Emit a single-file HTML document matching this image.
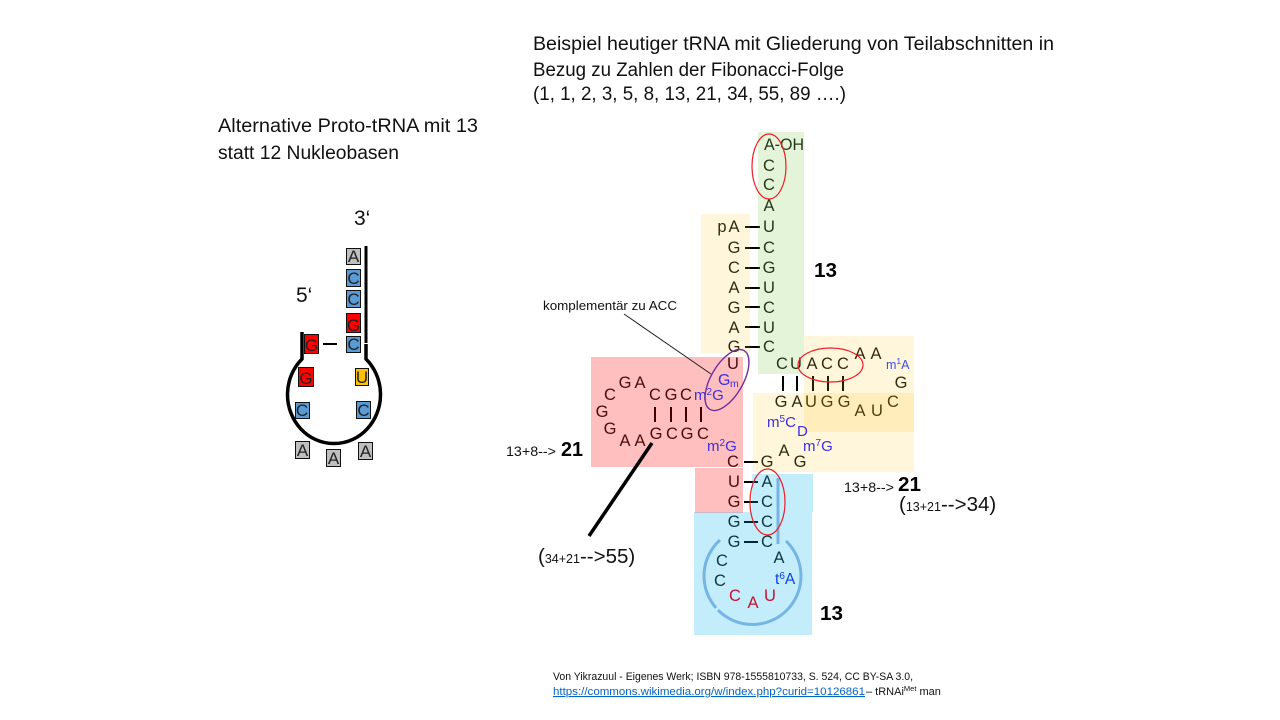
<!DOCTYPE html>
<html><head><meta charset="utf-8"><style>
html,body{margin:0;padding:0;background:#fff;width:1280px;height:720px;overflow:hidden}
svg{display:block;font-family:"Liberation Sans",sans-serif}
.n{font-size:16.5px;fill:#111;text-anchor:middle}
.m{font-size:15px;fill:#3d2ee0}
.r{font-size:16.5px;fill:#c8102e;text-anchor:middle}
.t{font-size:19px;fill:#111}
.b{font-size:20px;font-weight:bold;fill:#000}
.x{font-size:14px;fill:#111}
.bx{stroke:#111;stroke-width:1}
.l{font-size:17px;fill:#222;text-anchor:middle}
</style></head><body>
<svg width="1280" height="720" viewBox="0 0 1280 720" xmlns="http://www.w3.org/2000/svg">
<!-- titles -->
<text class="t" x="533" y="50" textLength="521" lengthAdjust="spacingAndGlyphs">Beispiel heutiger tRNA mit Gliederung von Teilabschnitten in</text>
<text class="t" x="533" y="76" textLength="311" lengthAdjust="spacingAndGlyphs">Bezug zu Zahlen der Fibonacci-Folge</text>
<text class="t" x="533" y="100" textLength="313" lengthAdjust="spacingAndGlyphs">(1, 1, 2, 3, 5, 8, 13, 21, 34, 55, 89 ….)</text>
<text class="t" x="218" y="132" textLength="260" lengthAdjust="spacingAndGlyphs">Alternative Proto-tRNA mit 13</text>
<text class="t" x="218" y="159" textLength="181" lengthAdjust="spacingAndGlyphs">statt 12 Nukleobasen</text>

<!-- acceptor stem -->
<g>
<text class="n" x="764" y="150" style="text-anchor:start" textLength="40" lengthAdjust="spacingAndGlyphs">A-OH</text>
<text class="n" x="769" y="171">C</text><text class="n" x="769" y="190">C</text><text class="n" x="769" y="211">A</text>
<text class="n" x="769" y="232">U</text><text class="n" x="769" y="253">C</text><text class="n" x="769" y="273">G</text>
<text class="n" x="769" y="293">U</text><text class="n" x="769" y="313">C</text><text class="n" x="769" y="333">U</text><text class="n" x="769" y="352">C</text>
<text class="n" x="722" y="232">p</text><text class="n" x="734" y="232">A</text><text class="n" x="734" y="253">G</text><text class="n" x="734" y="273">C</text>
<text class="n" x="734" y="293">A</text><text class="n" x="734" y="313">G</text><text class="n" x="734" y="333">A</text><text class="n" x="734" y="352">G</text>
<!-- D arm -->
<text class="n" x="733" y="369">U</text>
<text class="n" x="625" y="388">G</text><text class="n" x="640" y="388">A</text><text class="n" x="610" y="400">C</text>
<text class="n" x="602" y="417">G</text><text class="n" x="610" y="434">G</text><text class="n" x="625" y="446">A</text><text class="n" x="640" y="446">A</text>
<text class="n" x="656" y="439">G</text><text class="n" x="672" y="439">C</text><text class="n" x="687" y="439">G</text><text class="n" x="703" y="439">C</text>
<text class="n" x="655" y="400">C</text><text class="n" x="671" y="400">G</text><text class="n" x="686" y="400">C</text>
<text class="n" x="733" y="467">C</text>
<!-- T arm -->
<text class="n" x="782" y="369">C</text><text class="n" x="796" y="369">U</text><text class="n" x="812" y="369">A</text><text class="n" x="827" y="369">C</text><text class="n" x="843" y="369">C</text>
<text class="n" x="860" y="359">A</text><text class="n" x="876" y="359">A</text><text class="n" x="901" y="388">G</text><text class="n" x="893" y="407">C</text>
<text class="n" x="877" y="416">U</text><text class="n" x="860" y="416">A</text>
<text class="n" x="781" y="407">G</text><text class="n" x="797" y="407">A</text><text class="n" x="811" y="407">U</text><text class="n" x="827" y="407">G</text><text class="n" x="844" y="407">G</text>
<text class="n" x="784" y="456">A</text><text class="n" x="800" y="467">G</text><text class="n" x="767" y="467">G</text>
<!-- anticodon arm -->
<text class="n" x="734" y="487">U</text><text class="n" x="767" y="487">A</text><text class="n" x="734" y="507">G</text><text class="n" x="767" y="507">C</text>
<text class="n" x="734" y="527">G</text><text class="n" x="767" y="527">C</text><text class="n" x="734" y="547">G</text><text class="n" x="767" y="547">C</text>
<text class="n" x="779" y="563">A</text><text class="n" x="722" y="566">C</text><text class="n" x="720" y="586">C</text>
</g>
<!-- bonds -->
<g stroke="#000" stroke-width="2" fill="none">
<path d="M745 227H760M745 248H760M745 268H760M745 288H760M745 307H760M745 327H760M745 347H760"/>
<path d="M744 462H758M744 482H758M744 502H758M744 522H758M744 542H758"/>
<path d="M655 407V422M671 407V422M686 407V422M701 407V422"/>
<path d="M783 376V391M797 376V391M813 376V391M828 376V391M843 376V391"/>
</g>

<!-- coloured translucent panels above the text -->
<g>
<rect x="758" y="132" width="46" height="242" fill="#78c83c" fill-opacity=".2"/>
<rect x="701" y="214" width="49" height="139" fill="#ffc000" fill-opacity=".14"/>
<rect x="804" y="336" width="110" height="96" fill="#ffc000" fill-opacity=".14"/>
<rect x="753" y="393" width="161" height="79" fill="#ffc000" fill-opacity=".14"/>
<rect x="591" y="357" width="152" height="110" fill="#ff0000" fill-opacity=".25"/>
<rect x="695" y="468" width="48" height="45" fill="#ff0000" fill-opacity=".25"/>
<rect x="752" y="474" width="61" height="38" fill="#00b0f0" fill-opacity=".23"/>
<rect x="694" y="512" width="118" height="123" fill="#00b0f0" fill-opacity=".23"/>
</g>

<!-- modified bases -->
<text x="718" y="385" style="font-size:16px;fill:#3d2ee0">G</text><text x="730" y="387" style="font-size:10.5px;fill:#3d2ee0">m</text>
<text class="m" x="694" y="400">m<tspan dy="-5" font-size="10">2</tspan><tspan dy="5">G</tspan></text>
<text class="m" x="707" y="451">m<tspan dy="-5" font-size="10">2</tspan><tspan dy="5">G</tspan></text>
<text x="886" y="369" style="font-size:12.5px;fill:#3d4ee8">m<tspan dy="-5" font-size="8.5">1</tspan><tspan dy="5">A</tspan></text>
<text class="m" x="767" y="427">m<tspan dy="-5" font-size="10">5</tspan><tspan dy="5">C</tspan></text>
<text class="m" x="797" y="436">D</text>
<text class="m" x="803" y="451">m<tspan dy="-5" font-size="10">7</tspan><tspan dy="5">G</tspan></text>
<text x="775" y="584" style="font-size:15.5px;fill:#0a3cf0">t<tspan dy="-5" font-size="10">6</tspan><tspan dy="5">A</tspan></text>
<text class="r" x="735" y="601">C</text><text class="r" x="753" y="608">A</text><text class="r" x="770" y="601">U</text>

<!-- anticodon loop -->
<g stroke="#74b5e4" stroke-width="3" fill="none">
<path d="M778 478V544"/>
<path d="M720 540A48.500 48.500 0 0 0 716 607.940"/>
<path d="M718 610.090A48.500 48.500 0 1 0 786 540.930"/>
</g>

<!-- ellipses -->
<g fill="none" stroke="#ee1c25" stroke-width="1.2">
<ellipse cx="769" cy="166.5" rx="17" ry="32.5"/>
<ellipse cx="830.5" cy="365" rx="32.5" ry="17"/>
<ellipse cx="767.5" cy="502" rx="17.5" ry="33"/>
</g>
<ellipse cx="727" cy="380" rx="16" ry="34" transform="rotate(30 727 380)" fill="none" stroke="#7030a0" stroke-width="1.4"/>

<!-- annotation -->
<path d="M624 314L711 374" stroke="#222" stroke-width="1"/>
<text x="543" y="310" style="font-size:13px;fill:#111" textLength="134" lengthAdjust="spacingAndGlyphs">komplementär zu ACC</text>
<path d="M652 443L589 536" stroke="#000" stroke-width="3.5"/>

<!-- counts -->
<text class="b" x="814" y="277" textLength="23" lengthAdjust="spacingAndGlyphs">13</text>
<text class="b" x="820" y="620" textLength="23" lengthAdjust="spacingAndGlyphs">13</text>
<text class="b" x="561" y="456" textLength="22" lengthAdjust="spacingAndGlyphs">21</text>
<text class="b" x="898" y="491" textLength="23" lengthAdjust="spacingAndGlyphs">21</text>
<text class="x" x="506" y="456" textLength="50" lengthAdjust="spacingAndGlyphs">13+8--&gt;</text>
<text class="x" x="844" y="492" textLength="50" lengthAdjust="spacingAndGlyphs">13+8--&gt;</text>
<text x="899" y="511" style="font-size:20.5px;fill:#111">(<tspan font-size="12.5">13+21</tspan>--&gt;34)</text>
<text x="538" y="563" style="font-size:20.5px;fill:#111">(<tspan font-size="12.5">34+21</tspan>--&gt;55)</text>

<!-- citation -->
<text x="553" y="680" style="font-size:11px;fill:#111" textLength="360" lengthAdjust="spacingAndGlyphs">Von Yikrazuul - Eigenes Werk; ISBN 978-1555810733, S. 524, CC BY-SA 3.0,</text>
<text x="553" y="695" style="font-size:11px;fill:#0563c1;text-decoration:underline" textLength="312" lengthAdjust="spacingAndGlyphs">https://commons.wikimedia.org/w/index.php?curid=10126861</text>
<text x="866" y="695" style="font-size:11px;fill:#111">– tRNAi<tspan dy="-4" font-size="7.5">Met</tspan><tspan dy="4"> man</tspan></text>

<!-- proto-tRNA -->
<text x="354" y="225" style="font-size:21px;fill:#111">3‘</text>
<text x="296" y="302" style="font-size:21px;fill:#111">5‘</text>
<g fill="none" stroke="#000" stroke-width="3.5">
<path d="M366 246V343" stroke-width="3"/>
<path d="M302 332V359A46.500 49 0 1 0 366 359V344"/>
</g>
<path d="M323 344H337" stroke="#000" stroke-width="2"/>
<g class="bx">
<rect x="346.500" y="248.500" width="14" height="16" fill="#bfbfbf"/>
<rect x="346.500" y="269.500" width="14" height="17" fill="#5b9bd5"/>
<rect x="346.500" y="290.500" width="14" height="17" fill="#5b9bd5"/>
<rect x="346.500" y="313.500" width="14" height="19" fill="#ff0000"/>
<rect x="346.500" y="336.500" width="14" height="16" fill="#5b9bd5"/>
<rect x="304.500" y="334.500" width="14" height="19" fill="#ff0000"/>
<rect x="298.500" y="367.500" width="15" height="19" fill="#ff0000"/>
<rect x="355.500" y="368.500" width="13" height="17" fill="#ffc000"/>
<rect x="295.500" y="402.500" width="14" height="16" fill="#5b9bd5"/>
<rect x="356.500" y="401.500" width="14" height="17" fill="#5b9bd5"/>
<rect x="295.500" y="441.500" width="14" height="17" fill="#bfbfbf"/>
<rect x="326.500" y="449.500" width="14" height="17" fill="#bfbfbf"/>
<rect x="358.500" y="442.500" width="14" height="17" fill="#bfbfbf"/>
</g>
<g>
<text class="l" x="353.500" y="262">A</text><text class="l" x="353.500" y="284">C</text><text class="l" x="353.500" y="305">C</text>
<text class="l" x="353.500" y="331">G</text><text class="l" x="353.500" y="350">C</text><text class="l" x="311.500" y="351">G</text>
<text class="l" x="306" y="384">G</text><text class="l" x="362" y="383">U</text><text class="l" x="302" y="416">C</text><text class="l" x="363.500" y="416">C</text>
<text class="l" x="302.500" y="456">A</text><text class="l" x="333.500" y="464">A</text><text class="l" x="365.500" y="457">A</text>
</g>
</svg>
</body></html>
